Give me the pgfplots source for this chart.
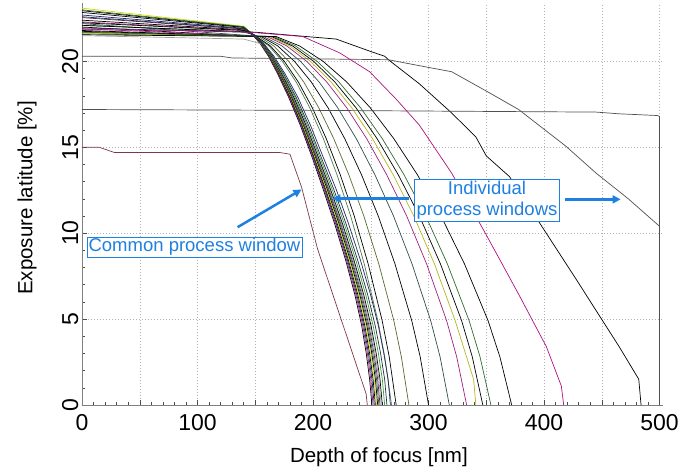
\documentclass[border=0pt]{standalone}
\usepackage{pgfplots}
\pgfplotsset{compat=1.18}
\usepackage{fontspec}
\setmainfont{Liberation Sans}
\usetikzlibrary{arrows.meta}
\definecolor{annblue}{RGB}{30,128,224}
\definecolor{cbrown}{RGB}{122,58,69}
\definecolor{cmag}{RGB}{176,16,128}
\definecolor{cmag2}{RGB}{160,32,122}
\definecolor{cyel}{RGB}{212,220,0}
\definecolor{cyel2}{RGB}{181,181,32}
\definecolor{cdgreen}{RGB}{47,106,47}
\definecolor{cgreen}{RGB}{60,154,60}
\definecolor{cnavy}{RGB}{34,34,110}
\definecolor{cnavy2}{RGB}{40,40,100}
\definecolor{cpurple}{RGB}{90,36,100}
\definecolor{cteal}{RGB}{30,50,60}
\definecolor{cslate}{RGB}{47,79,79}
\definecolor{colive}{RGB}{85,107,47}
\definecolor{cgg}{RGB}{77,122,77}
\definecolor{cgray}{RGB}{160,160,160}
\definecolor{cdgray}{RGB}{80,80,80}
\begin{document}
\begin{tikzpicture}
\begin{axis}[
  scale only axis, width=581pt, height=402pt,
  xmin=0, xmax=503, ymin=0, ymax=23.4,
  axis x line*=bottom, axis y line*=left,
  axis line style={gray, line width=0.8pt},
  xtick={0,50,...,500}, xticklabels={0,,100,,200,,300,,400,,500},
  ytick={0,5,10,15,20},
  minor x tick num=4, minor y tick num=4,
  grid=major, grid style={dash pattern=on 1pt off 2pt, black!30, line width=0.5pt},
  tick align=inside, major tick length=5pt, minor tick length=3pt,
  tick style={black!70, line width=0.5pt},
  /pgf/number format/assume math mode=true,
  xticklabel style={font=\fontsize{23}{23}\selectfont, yshift=-6pt},
  yticklabel style={font=\fontsize{23}{23}\selectfont, rotate=90, anchor=south},
  xlabel={Depth of focus [nm]}, ylabel={Exposure latitude [\%]},
  xlabel style={font=\fontsize{20.5}{24}\selectfont, at={(axis description cs:0.511,-0.13)}, anchor=center},
  ylabel style={font=\fontsize{20.5}{24}\selectfont, at={(axis description cs:-0.0947,0.515)}, anchor=center, rotate=0},
  every axis plot/.append style={no markers, line width=0.7pt},
]
% c-curves
\addplot[cgg] coordinates {(0,21.7)(150,21.45)(161.8,20.9)(173.6,20.0)(185.4,18.8)(197.2,17.3)(209,15.5)(220.8,13.4)(232.6,11.0)(244.4,8.2)(256.2,4.9)(262.1,2.8)(268,0)};
\addplot[black] coordinates {(0,22.0)(151,21.45)(163.1,20.9)(175.2,20.0)(187.3,18.8)(199.4,17.3)(211.5,15.5)(223.6,13.4)(235.7,11.0)(247.8,8.2)(259.9,4.9)(266,2.8)(272,0)};
\addplot[colive] coordinates {(0,21.6)(153,21.45)(166,20.9)(179,20.0)(192,18.8)(205,17.3)(218,15.5)(231,13.4)(244,11.0)(257,8.2)(270,4.9)(276.5,2.8)(283,0)};
\addplot[black] coordinates {(0,21.8)(155,21.45)(169.5,20.9)(184,20.0)(198.5,18.8)(213,17.3)(227.5,15.5)(242,13.4)(256.5,11.0)(271,8.2)(285.5,4.9)(292.8,2.8)(300,0)};
\addplot[cslate] coordinates {(0,22.2)(157,21.45)(173.1,20.9)(189.2,20.0)(205.3,18.8)(221.4,17.3)(237.5,15.5)(253.6,13.4)(269.7,11.0)(285.8,8.2)(301.9,4.9)(310,2.8)(318,0)};
\addplot[cmag2] coordinates {(0,21.9)(160,21.45)(177.3,20.9)(194.6,20.0)(211.9,18.8)(229.2,17.3)(246.5,15.5)(263.8,13.4)(281.1,11.0)(298.4,8.2)(315.7,4.9)(324.4,2.8)(333,0)};
\addplot[cyel2] coordinates {(0,21.65)(162,21.45)(179.9,20.9)(197.8,20.0)(215.7,18.8)(233.6,17.3)(251.5,15.5)(269.4,13.4)(287.3,11.0)(305.2,8.2)(323.1,4.9)(339,1.5)(341,0)};
\addplot[black] coordinates {(0,21.75)(164,21.45)(182.3,20.9)(200.6,20.0)(218.9,18.8)(237.2,17.3)(255.5,15.5)(273.8,13.4)(292.1,11.0)(310.4,8.2)(328.7,4.9)(337.9,2.8)(347,0)};
\addplot[cdgreen] coordinates {(0,21.7)(166,21.45)(184.8,20.9)(203.6,20.0)(222.4,18.8)(241.2,17.3)(260,15.5)(278.8,13.4)(297.6,11.0)(316.4,8.2)(335.2,4.9)(344.6,2.8)(354,0)};
\addplot[black] coordinates {(0,21.55)(168,21.45)(188.4,20.9)(208.8,20.0)(229.2,18.8)(249.6,17.3)(270,15.5)(290.4,13.4)(310.8,11.0)(331.2,8.2)(351.6,4.9)(361.8,2.8)(372,0)};
% bundle
\addplot[black] coordinates {(0,22.4)(140,21.84)(147.8,21.55)(154.6,21.0)(161.4,20.3)(169.2,19.3)(179,17.9)(188.9,16.3)(198.8,14.5)(208.6,12.6)(218.5,10.6)(228.4,8.4)(236.3,6.4)(242.2,4.6)(246.1,3.0)(249,1.5)(251,0)};
\addplot[cmag2] coordinates {(0,22.3)(140,21.81)(147.9,21.55)(154.8,21.0)(161.7,20.3)(169.6,19.3)(179.5,17.9)(189.5,16.3)(199.4,14.5)(209.3,12.6)(219.3,10.6)(229.2,8.4)(237.2,6.4)(243.1,4.6)(247.1,3.0)(250,1.5)(252,0)};
\addplot[cnavy] coordinates {(0,22.7)(140,21.93)(148,21.55)(155,21.0)(162,20.3)(170,19.3)(180,17.9)(190,16.3)(200,14.5)(210,12.6)(220,10.6)(230,8.4)(238,6.4)(244,4.6)(248,3.0)(251,1.5)(253,0)};
\addplot[black] coordinates {(0,22.85)(140,21.98)(148.1,21.55)(155.2,21.0)(162.3,20.3)(170.4,19.3)(180.5,17.9)(190.6,16.3)(200.6,14.5)(210.7,12.6)(220.8,10.6)(230.8,8.4)(238.9,6.4)(244.9,4.6)(249,3.0)(252,1.5)(254,0)};
\addplot[cyel] coordinates {(0,23.1)(140,22.05)(148.2,21.55)(155.4,21.0)(162.6,20.3)(170.8,19.3)(181,17.9)(191.1,16.3)(201.2,14.5)(211.4,12.6)(221.5,10.6)(231.6,8.4)(239.7,6.4)(245.8,4.6)(249.9,3.0)(253,1.5)(255,0)};
\addplot[black] coordinates {(0,22.95)(140,22.0)(148.3,21.55)(155.6,21.0)(162.9,20.3)(171.2,19.3)(181.5,17.9)(191.7,16.3)(201.8,14.5)(212.1,12.6)(222.3,10.6)(232.4,8.4)(240.6,6.4)(246.7,4.6)(250.9,3.0)(254,1.5)(256,0)};
\addplot[cdgreen] coordinates {(0,23.0)(140,22.02)(148.4,21.55)(155.8,21.0)(163.2,20.3)(171.6,19.3)(182,17.9)(192.2,16.3)(202.4,14.5)(212.8,12.6)(223,10.6)(233.2,8.4)(241.4,6.4)(247.6,4.6)(251.8,3.0)(255,1.5)(257,0)};
\addplot[cpurple] coordinates {(0,22.55)(140,21.89)(148.5,21.55)(156,21.0)(163.5,20.3)(172,19.3)(182.5,17.9)(192.8,16.3)(203,14.5)(213.5,12.6)(223.8,10.6)(234,8.4)(242.3,6.4)(248.5,4.6)(252.8,3.0)(256,1.5)(258,0)};
\addplot[cgray] coordinates {(0,21.5)(140,21.3)(156.2,21.0)(163.8,20.3)(172.4,19.3)(183,17.9)(193.3,16.3)(203.6,14.5)(214.2,12.6)(224.5,10.6)(234.8,8.4)(243.1,6.4)(249.4,4.6)(253.7,3.0)(257,1.5)(259,0)};
\addplot[black] coordinates {(0,22.25)(140,21.8)(148.7,21.55)(156.4,21.0)(164.1,20.3)(172.8,19.3)(183.5,17.9)(193.9,16.3)(204.2,14.5)(214.9,12.6)(225.3,10.6)(235.6,8.4)(244,6.4)(250.3,4.6)(254.7,3.0)(258,1.5)(260,0)};
\addplot[cgreen] coordinates {(0,22.1)(140,21.75)(148.9,21.55)(156.8,21.0)(164.7,20.3)(173.6,19.3)(184.5,17.9)(195,16.3)(205.4,14.5)(216.3,12.6)(226.8,10.6)(237.2,8.4)(245.7,6.4)(252.1,4.6)(256.6,3.0)(260,1.5)(262,0)};
\addplot[cteal] coordinates {(0,22.6)(140,21.9)(149.1,21.55)(157.2,21.0)(165.3,20.3)(174.4,19.3)(185.5,17.9)(196.1,16.3)(206.6,14.5)(217.7,12.6)(228.3,10.6)(238.8,8.4)(247.4,6.4)(253.9,4.6)(258.5,3.0)(262,1.5)(264,0)};
\addplot[cnavy2] coordinates {(0,21.95)(140,21.7)(149.4,21.55)(157.8,21.0)(166.2,20.3)(175.6,19.3)(187,17.9)(197.7,16.3)(208.4,14.5)(219.8,12.6)(230.5,10.6)(241.2,8.4)(249.9,6.4)(256.6,4.6)(261.3,3.0)(265,1.5)(267,0)};
% special curves
\addplot[black] coordinates {(0,22.1)(150,21.7)(220,21.3)(249,20.6)(262,20.3)(266,20.06)(292,18.7)(320,17.0)(341,15.6)(350,14.5)(370,13.3)(400,10.2)(428,7.3)(446,5.4)(465,3.4)(482,1.5)(484,0)};
\addplot[cdgray] coordinates {(0,20.3)(120,20.3)(130,20.2)(265,20.1)(300,19.65)(320,19.4)(352,18.2)(378,17.2)(419,15.06)(445,13.5)(473,12.0)(500,10.4)(500,0)};
\addplot[cdgray] coordinates {(0,17.2)(200,17.15)(445,17.05)(465,16.95)(498,16.85)(500,16.8)(500,0)};
\addplot[cmag] coordinates {(0,21.85)(100,21.8)(145,21.7)(191,21.45)(223,20.5)(249,19.4)(272,17.8)(292,16.3)(320,13.5)(350,9.9)(378,6.45)(402,3.4)(415,1.1)(417,0)};
\addplot[cbrown] coordinates {(0,15.0)(15,15.0)(28,14.7)(171,14.7)(180,14.6)(190,12.7)(204,9.07)(218.5,6.16)(231.5,3.55)(246,0.64)(247,0)};
% annotations
\draw[annblue, line width=2.5pt, -{Triangle[length=8pt,width=8pt]}] (axis cs:134.7,10.35) -- (axis cs:190,12.54);
\draw[annblue, line width=2.5pt, -{Triangle[length=8pt,width=8pt]}] (axis cs:283.2,12.02) -- (axis cs:216.8,12.02);
\draw[annblue, line width=2.5pt, -{Triangle[length=8pt,width=8pt]}] (axis cs:418,11.97) -- (axis cs:466.3,11.97);
\node[draw=annblue, fill=white, text=annblue, line width=0.8pt, inner sep=1.5pt, font=\fontsize{18.5}{20}\selectfont] at (axis cs:97.4,9.19) {Common process window};
\node[draw=annblue, fill=white, text=annblue, line width=0.8pt, inner sep=2pt, align=center, font=\fontsize{18.5}{21}\selectfont] at (axis cs:350.6,11.9) {Individual\\process windows};
\end{axis}
\pgfresetboundingbox
\path[use as bounding box] (-82pt,-66pt) rectangle (597pt,405pt);
\end{tikzpicture}
\end{document}
